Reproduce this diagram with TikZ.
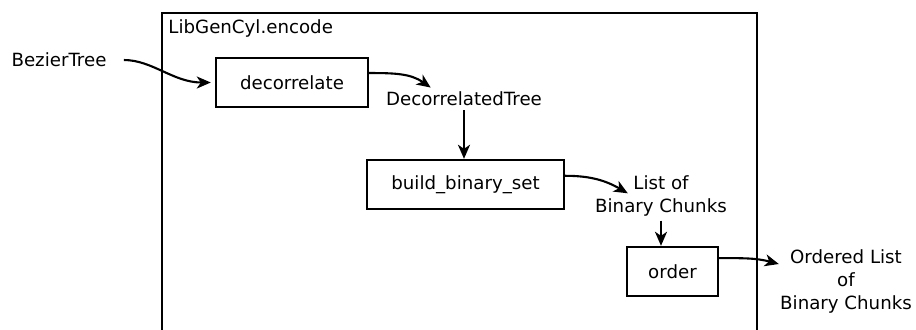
\documentclass[tikz,border=0pt]{standalone}
\usepackage{fontspec}
\setmainfont{DejaVu Sans}
\usetikzlibrary{arrows.meta,positioning,calc}

\begin{document}
\begin{tikzpicture}[x=0.5pt, y=-0.5pt,
  font=\fontsize{9.1}{11.5}\selectfont,
  box/.style={draw=black, line width=1.2pt, minimum height=24.5pt, inner sep=0pt},
  lbl/.style={align=center, inner sep=2pt},
  flow/.style={-{Stealth[length=7pt,width=6pt,inset=2pt]}, line width=1.05pt}]
  \useasboundingbox (0,0) rectangle (916,329);

  \draw[line width=1.2pt] (162,340) -- (162,13) -- (757,13) -- (757,340);
  \node (lib) [anchor=north west, inner sep=0pt] at (168,19) {LibGenCyl.encode};

  \node (bt) [lbl] at (59,60) {BezierTree};
  \node (deco) [box, minimum width=76pt] at (292,82.5) {decorrelate};
  \node (dtree) [lbl] at (464,99) {DecorrelatedTree};
  \node (bbs) [box, minimum width=98.5pt] at (465.5,184.5) {build\_binary\_set};
  \node (lst) [lbl] at (661,196) {List of\\Binary Chunks};
  \node (order) [box, minimum width=45.5pt] at (672.5,271.5) {order};
  \node (olist) [lbl] at (846,281) {Ordered List\\of\\Binary Chunks};

  \path [flow]
  (bt) edge[out=0, in=180, shorten <=6.5pt, shorten >=2pt] (deco)
  (deco.7) edge[out=0, in=145] ($(dtree.north west)+(49,0)$)
  (dtree) edge (dtree |- bbs.north)
  (bbs.5) edge[out=0, in=150] ($(lst.north west)+(37,22)$)
  (lst) edge (lst |- order.north)
  (order.16) edge[out=0, in=165] ($(olist.west)+(3,-17)$);
\end{tikzpicture}
\end{document}
